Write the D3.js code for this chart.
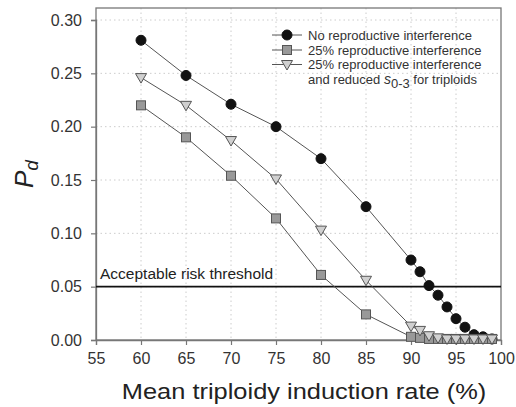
<!DOCTYPE html>
<html><head><meta charset="utf-8">
<script src="https://cdn.jsdelivr.net/npm/d3@7"></script>
<style>body{margin:0;background:#fff}svg{display:block;font-family:Arial,"Liberation Sans",sans-serif}</style>
</head><body><svg id="c" width="516" height="407"></svg>
<script>
const xValues = [60,65,70,75,80,85,90,91,92,93,94,95,96,97,98,99];
const noInterference = [0.281,0.248,0.221,0.200,0.170,0.125,0.075,0.064,0.051,0.042,0.031,0.020,0.012,0.005,0.003,0.001];
const interference25 = [0.220,0.190,0.154,0.114,0.061,0.024,0.003,0.002,0.001,0.001,0.001,0.001,0.001,0.001,0.001,0.001];
const interferenceReduced = [0.246,0.220,0.187,0.151,0.103,0.056,0.013,0.009,0.004,0.002,0.001,0.001,0.001,0.001,0.001,0.001];
const xTicks = [55,60,65,70,75,80,85,90,95,100];
const yTicks = [0.00,0.05,0.10,0.15,0.20,0.25,0.30];
const threshold = 0.05;

const svg = d3.select("#c");
const L=96,R=501,T=8,B=340;
const x = d3.scaleLinear().domain([55,100]).range([L,R]);
const y = d3.scaleLinear().domain([0,0.3]).range([B,20]);

// grid
const g = svg.append("g");
g.selectAll(".gx").data(xTicks.slice(1,-1)).enter().append("line")
 .attr("x1",d=>x(d)).attr("x2",d=>x(d)).attr("y1",T).attr("y2",B)
 .attr("stroke","#ccc").attr("stroke-dasharray","1.5,3");
g.selectAll(".gy").data(yTicks.slice(1)).enter().append("line")
 .attr("x1",L).attr("x2",R).attr("y1",d=>y(d)).attr("y2",d=>y(d))
 .attr("stroke","#ccc").attr("stroke-dasharray","1.5,3");

// frame
svg.append("rect").attr("x",L).attr("y",T).attr("width",R-L).attr("height",B-T)
 .attr("fill","none").attr("stroke","#777").attr("stroke-width",1.3);

// axes
const xa = svg.append("g").attr("transform",`translate(0,${B})`)
 .call(d3.axisBottom(x).tickValues(xTicks).tickSize(5).tickPadding(8).tickFormat(d3.format("d")));
const ya = svg.append("g").attr("transform",`translate(${L},0)`)
 .call(d3.axisLeft(y).tickValues(yTicks).tickSize(5).tickPadding(9).tickFormat(d3.format(".2f")));
[xa,ya].forEach(a=>{
  a.select(".domain").attr("stroke","#777").attr("stroke-width",1.3);
  a.selectAll(".tick line").attr("stroke","#777").attr("stroke-width",1.2);
  a.selectAll("text").attr("font-size",16).attr("fill","#333").attr("font-family","Arial,'Liberation Sans',sans-serif");
});

// threshold
svg.append("line").attr("x1",L).attr("x2",R).attr("y1",y(threshold)).attr("y2",y(threshold))
 .attr("stroke","#111").attr("stroke-width",1.6);
svg.append("text").attr("x",100).attr("y",y(threshold)-8).attr("font-size",15.5).attr("fill","#222")
 .text("Acceptable risk threshold");

const line = d3.line().x((d,i)=>x(xValues[i])).y(d=>y(d));
const series = [
 {vals:noInterference, shape:"circle", fill:"#111", stroke:"#111"},
 {vals:interference25, shape:"square", fill:"#999", stroke:"#555"},
 {vals:interferenceReduced, shape:"triangle", fill:"#d0d0d0", stroke:"#555"}
];
function marker(sel, shape, fill, stroke){
  if(shape==="circle") sel.append("circle").attr("r",5).attr("fill",fill).attr("stroke",stroke);
  else if(shape==="square") sel.append("rect").attr("x",-4.5).attr("y",-4.5).attr("width",9).attr("height",9).attr("fill",fill).attr("stroke",stroke);
  else sel.append("path").attr("d","M-5.5,-4 L5.5,-4 L0,5.5 Z").attr("fill",fill).attr("stroke",stroke);
}
series.forEach(s=>{
  svg.append("path").datum(s.vals).attr("d",line).attr("fill","none").attr("stroke","#555").attr("stroke-width",1);
});
series.forEach(s=>{
  s.vals.forEach((v,i)=>{
    const m = svg.append("g").attr("transform",`translate(${x(xValues[i])},${y(v)})`);
    marker(m,s.shape,s.fill,s.stroke);
  });
});

// legend
const leg = svg.append("g").attr("font-size",13).attr("fill","#333");
const rows=[{s:series[0],t:"No reproductive interference",yy:35},{s:series[1],t:"25% reproductive interference",yy:50},{s:series[2],t:"25% reproductive interference",yy:64.5}];
rows.forEach(r=>{
  leg.append("line").attr("x1",272).attr("x2",302).attr("y1",r.yy).attr("y2",r.yy).attr("stroke","#555");
  const m=leg.append("g").attr("transform",`translate(287,${r.yy})`);
  marker(m,r.s.shape,r.s.fill,r.s.stroke);
  leg.append("text").attr("x",308).attr("y",r.yy+4.5).attr("fill","#333").text(r.t);
});
const t4 = leg.append("text").attr("x",308).attr("y",84).attr("fill","#333");
t4.append("tspan").text("and reduced ");
t4.append("tspan").attr("font-style","italic").attr("font-size",14).text("s");
t4.append("tspan").attr("dy",3.5).attr("font-size",13).text("0-3");
t4.append("tspan").attr("dy",-3.5).text(" for triploids");

// axis titles
svg.append("text").attr("transform","translate(304,399) scale(1.13,1)").attr("text-anchor","middle").attr("font-size",22.5).attr("fill","#222")
 .text("Mean triploidy induction rate (%)");
const yl = svg.append("text").attr("transform","translate(33,174) rotate(-90)").attr("text-anchor","middle").attr("fill","#222");
yl.append("tspan").attr("font-style","italic").attr("font-size",26).text("P");
yl.append("tspan").attr("font-style","italic").attr("font-size",19).attr("dy",5).text("d");
</script></body></html>
